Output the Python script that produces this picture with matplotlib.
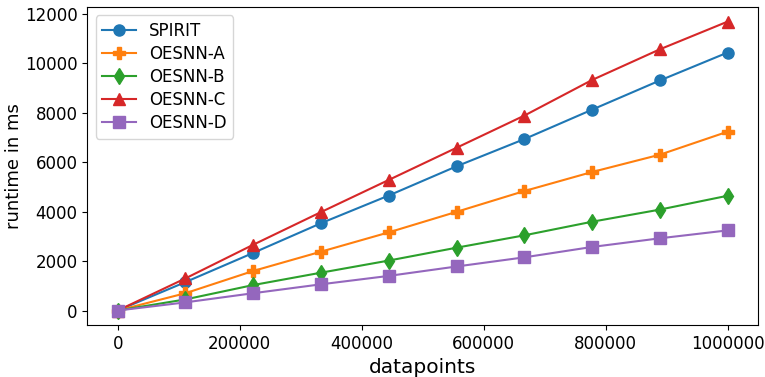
import numpy as np
import matplotlib.pyplot as plt

datapoints = [0, 111111, 222222, 333333, 444444, 555555, 666666, 777777, 888888, 1000000]
spirit = [0, 1150, 2330, 3530, 4650, 5830, 6930, 8120, 9300, 10430]
oesnn_a = [0, 700, 1600, 2380, 3160, 3990, 4830, 5600, 6300, 7230]
oesnn_b = [0, 450, 1030, 1530, 2020, 2540, 3040, 3590, 4080, 4640]
oesnn_c = [0, 1300, 2660, 3980, 5280, 6580, 7880, 9320, 10560, 11680]
oesnn_d = [0, 330, 700, 1060, 1400, 1780, 2150, 2570, 2920, 3240]

series = [
    ("SPIRIT", spirit, "o"),
    ("OESNN-A", oesnn_a, "P"),
    ("OESNN-B", oesnn_b, "d"),
    ("OESNN-C", oesnn_c, "^"),
    ("OESNN-D", oesnn_d, "s"),
]

fig, ax = plt.subplots(figsize=(7.65, 3.77), dpi=100)
plt.subplots_adjust(left=0.114, right=0.991, top=0.981, bottom=0.138)

for name, vals, marker in series:
    ax.plot(datapoints, vals, marker=marker, markersize=8, linewidth=1.5, label=name)

ax.ticklabel_format(style="plain", useOffset=False)
ax.set_xticks([0, 200000, 400000, 600000, 800000, 1000000])
ax.set_yticks([0, 2000, 4000, 6000, 8000, 10000, 12000])
ax.tick_params(labelsize=12)
ax.set_xlabel("datapoints", fontsize=14.5)
ax.set_ylabel("runtime in ms", fontsize=13)
ax.yaxis.set_label_coords(-0.095, 0.5)
ax.legend(loc="upper left", fontsize=12, labelspacing=0.3)

plt.savefig("out.png", dpi=100)
